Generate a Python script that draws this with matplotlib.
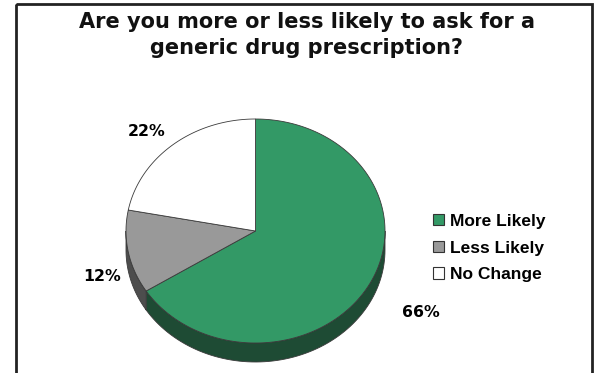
import numpy as np
import matplotlib.pyplot as plt
from matplotlib.patches import Polygon, Rectangle, Patch

# survey answers (percent)
labels = ['More Likely', 'Less Likely', 'No Change']
shares = [66, 12, 22]
pct_text = ['66%', '12%', '22%']

top_colors = ['#339966', '#999999', '#ffffff']
side_colors = ['#1e4b34', '#4d4d4d', '#b3b3b3']
edge = '#3a3a3a'

W, H = 596, 373
fig = plt.figure(figsize=(W / 100, H / 100), dpi=100)
ax = fig.add_axes([0, 0, 1, 1])
ax.set_xlim(0, W)
ax.set_ylim(H, 0)
ax.axis('off')

# pie geometry in pixels
cx, cy, rx, ry, depth = 255.5, 231.0, 129.5, 112.0, 19.0
label_r = 1.3
label_nudge = [(18, 11), (12, 18), (-2, 13)]


def ell(a, dy=0.0):
    t = np.radians(a)
    return np.column_stack([cx + rx * np.cos(t), cy - ry * np.sin(t) + dy])


# slice angles: start at 12 o'clock, go clockwise
bounds = []
start = 90.0
for s in shares:
    end = start - s * 3.6
    bounds.append((end, start))
    start = end

# side walls (only the front half is visible)
for (a0, a1), col in zip(bounds, side_colors):
    for k in (-1, 0):
        lo, hi = max(a0, -180 + 360 * k), min(a1, 360 * k)
        if hi - lo <= 0:
            continue
        arc = np.linspace(lo, hi, 80)
        pts = np.vstack([ell(arc), ell(arc[::-1], depth)])
        ax.add_patch(Polygon(pts, closed=True, fc=col, ec=edge, lw=0.6))

# top faces
for (a0, a1), col in zip(bounds, top_colors):
    arc = np.linspace(a0, a1, 200)
    pts = np.vstack([[cx, cy], ell(arc)])
    ax.add_patch(Polygon(pts, closed=True, fc=col, ec=edge, lw=0.6))

# percentage labels
for (a0, a1), txt, (nx, ny) in zip(bounds, pct_text, label_nudge):
    mid = np.radians((a0 + a1) / 2)
    x = cx + label_r * rx * np.cos(mid) + nx
    y = cy - label_r * ry * np.sin(mid) + ny
    ax.text(x, y, txt, ha='center', va='center', fontsize=11.3,
            fontweight='bold', family='DejaVu Sans', color='black')

# title
ax.text(307, 35, 'Are you more or less likely to ask for a\ngeneric drug prescription?',
        ha='center', va='center', fontsize=15, fontweight='bold',
        family='DejaVu Sans', linespacing=1.33, color='#111111')

# legend
handles = [Patch(fc=c, ec='#333333', lw=0.8) for c in top_colors]
ax.legend(handles, labels, loc='center left', bbox_to_anchor=(433 / W, 1 - 248 / H),
          frameon=False, borderpad=0, borderaxespad=0, handlelength=0.65,
          handleheight=0.65, handletextpad=0.35, labelspacing=0.68,
          prop={'family': 'Liberation Sans', 'weight': 'bold', 'size': 12.5})

# outer frame
ax.add_patch(Rectangle((16, 4), 576, 390, fill=False, ec='#222222', lw=2.0, clip_on=False))

fig.savefig('out.png', dpi=100)
